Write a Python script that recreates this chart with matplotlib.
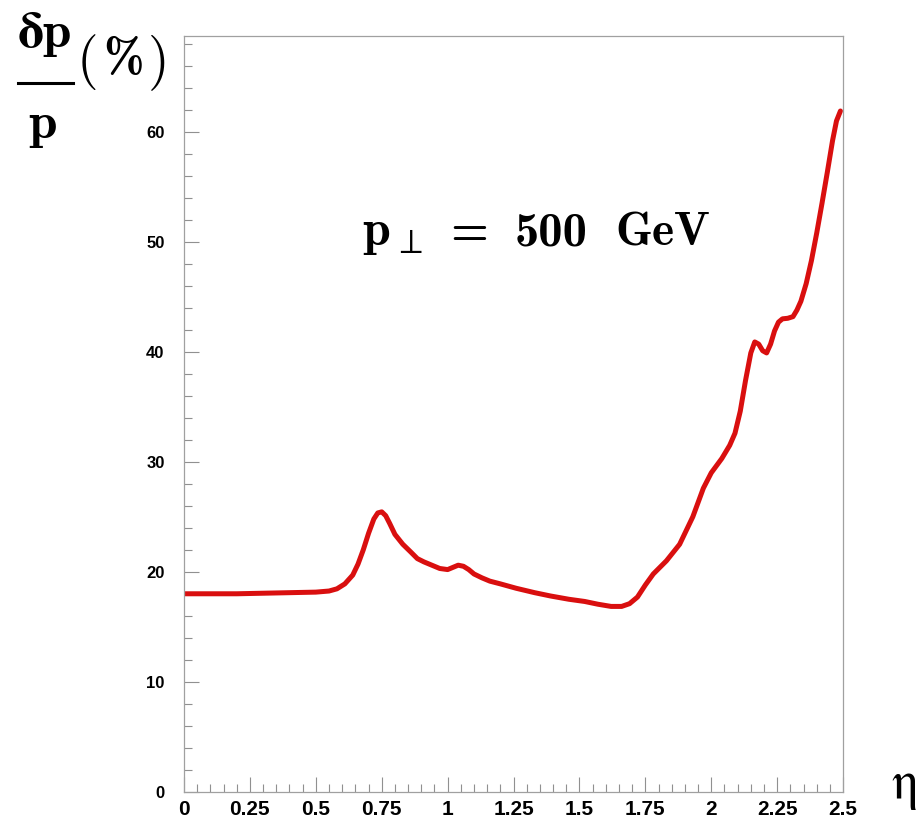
import matplotlib
matplotlib.use("Agg")
import matplotlib.pyplot as plt
from matplotlib.lines import Line2D
from matplotlib.ticker import MultipleLocator

# curve: eta vs momentum resolution (%)
eta = [0.0, 0.1, 0.2, 0.3, 0.4, 0.5, 0.55, 0.58, 0.61, 0.64, 0.66, 0.68,
       0.70, 0.72, 0.735, 0.75, 0.765, 0.78, 0.80, 0.83, 0.86, 0.885, 0.91,
       0.94, 0.97, 1.0, 1.02, 1.04, 1.06, 1.08, 1.1, 1.13, 1.16, 1.2, 1.26,
       1.33, 1.39, 1.46, 1.52, 1.57, 1.62, 1.66, 1.69, 1.72, 1.75, 1.78,
       1.83, 1.88, 1.93, 1.97, 2.0, 2.04, 2.07, 2.09, 2.11, 2.13, 2.15,
       2.165, 2.18, 2.195, 2.21, 2.225, 2.24, 2.255, 2.27, 2.29, 2.31, 2.325,
       2.34, 2.36, 2.38, 2.40, 2.42, 2.44, 2.46, 2.475, 2.49]
resolution = [18.0, 18.0, 18.0, 18.05, 18.1, 18.15, 18.25, 18.45, 18.9, 19.7,
              20.7, 22.0, 23.5, 24.8, 25.35, 25.45, 25.1, 24.4, 23.4, 22.5,
              21.8, 21.2, 20.9, 20.6, 20.3, 20.2, 20.4, 20.6, 20.5, 20.2, 19.8,
              19.45, 19.15, 18.9, 18.5, 18.1, 17.8, 17.5, 17.3, 17.05, 16.85,
              16.85, 17.1, 17.7, 18.8, 19.8, 21.0, 22.5, 25.0, 27.6, 29.0,
              30.3, 31.5, 32.6, 34.6, 37.4, 39.9, 40.9, 40.7, 40.1, 39.9,
              40.7, 41.9, 42.7, 43.0, 43.05, 43.2, 43.8, 44.6, 46.2, 48.3,
              50.8, 53.5, 56.3, 59.2, 61.0, 61.9]

xticks = [0, 0.25, 0.5, 0.75, 1, 1.25, 1.5, 1.75, 2, 2.25, 2.5]
xticklabels = ["0", "0.25", "0.5", "0.75", "1", "1.25", "1.5", "1.75", "2", "2.25", "2.5"]
yticks = [0, 10, 20, 30, 40, 50, 60]

plt.rcParams["mathtext.fontset"] = "cm"

fig = plt.figure(figsize=(9.22, 8.23), dpi=100)
ax = fig.add_axes([0.1996, 0.038, 0.7148, 0.918])

ax.plot(eta, resolution, color="#d90f0f", lw=3.6, solid_capstyle="round",
        solid_joinstyle="round")

ax.set_xlim(0, 2.5)
ax.set_ylim(0, 68.7)
ax.set_xticks(xticks)
ax.set_xticklabels(xticklabels)
ax.set_yticks(yticks)
ax.xaxis.set_minor_locator(MultipleLocator(0.05))
ax.yaxis.set_minor_locator(MultipleLocator(2))

for s in ax.spines.values():
    s.set_color("#a0a0a0")
    s.set_linewidth(0.9)

ax.tick_params(which="both", direction="in", color="#909090", top=False, right=False)
ax.tick_params(which="major", length=11, width=0.8)
ax.tick_params(which="minor", length=6, width=0.8)
ax.tick_params(axis="x", which="major", pad=6)
ax.tick_params(axis="y", which="major", pad=14)
for lab in ax.get_xticklabels():
    lab.set_fontfamily("Liberation Sans")
    lab.set_fontweight("bold")
    lab.set_fontsize(15)
for lab in ax.get_yticklabels():
    lab.set_fontfamily("Liberation Sans")
    lab.set_fontweight("bold")
    lab.set_fontsize(12)

# annotation: p_perp part in mathtext, the rest in CM bold
base = 0.7235
ax.text(0.270, base, r"$\mathbf{p}_{\perp}$",
        transform=ax.transAxes, fontsize=36, ha="left", va="baseline")
ax.text(0.404, base, "=", family="cmb10", transform=ax.transAxes,
        fontsize=35, ha="left", va="baseline")
ax.text(0.502, base, "500", family="cmb10", transform=ax.transAxes,
        fontsize=35, ha="left", va="baseline")
ax.text(0.654, base, "GeV", family="cmb10", transform=ax.transAxes,
        fontsize=34, ha="left", va="baseline")

# y axis label: fraction dp/p (%)
fig.text(0.049, 0.943, "δp", family=["cmb10", "STIXGeneral"], fontweight="bold",
         fontsize=37, ha="center", va="baseline")
fig.add_artist(Line2D([0.019, 0.079], [0.899, 0.899], color="black", lw=2.2,
                      transform=fig.transFigure))
fig.text(0.046, 0.832, "p", family=["cmb10", "STIXGeneral"], fontweight="bold",
         fontsize=37, ha="center", va="baseline")
fig.text(0.095, 0.925, "(", family="cmr10", fontsize=40, ha="center", va="center")
fig.text(0.134, 0.927, "%", family="cmb10", fontsize=35, ha="center", va="center")
fig.text(0.172, 0.925, ")", family="cmr10", fontsize=40, ha="center", va="center")

# x axis label
fig.text(0.982, 0.03, "η", family=["cmr10", "STIXGeneral"], fontsize=38,
         ha="center", va="baseline")

fig.savefig("out.png", dpi=100)
